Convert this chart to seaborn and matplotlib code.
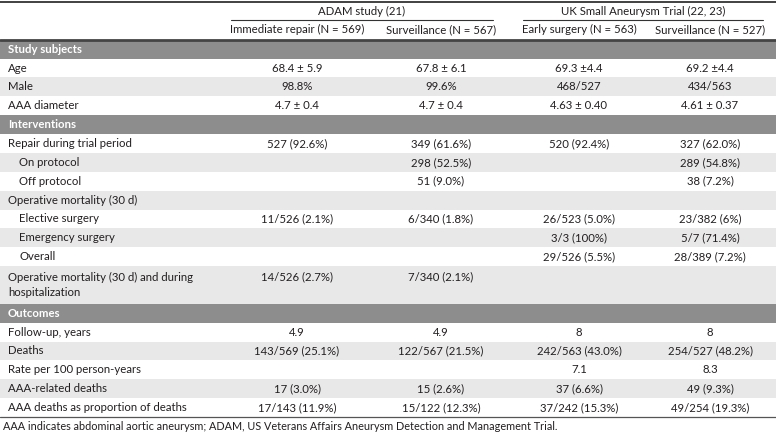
import matplotlib.pyplot as plt
import numpy as np
import seaborn as sns
from matplotlib.colors import ListedColormap

sns.set_theme(style="white")
plt.rcParams["font.family"] = ["Liberation Sans Narrow", "Lato", "DejaVu Sans"]

W, H, DPI = 776, 437, 100
FS = 8.2

# Datos de la tabla
GRUPOS = ["ADAM study (21)", "UK Small Aneurysm Trial (22, 23)"]
COLUMNAS = ["Immediate repair (N = 569)", "Surveillance (N = 567)",
            "Early surgery (N = 563)", "Surveillance (N = 527)"]

ETIQUETAS = [
    "Study subjects", "Age", "Male", "AAA diameter",
    "Interventions", "Repair during trial period", "On protocol", "Off protocol",
    "Operative mortality (30 d)", "Elective surgery", "Emergency surgery", "Overall",
    "Operative mortality (30 d) and during\nhospitalization",
    "Outcomes", "Follow-up, years", "Deaths", "Rate per 100 person-years",
    "AAA-related deaths", "AAA deaths as proportion of deaths",
]
TIPO = ["sec", "row", "row", "row",
        "sec", "row", "sub", "sub",
        "row", "sub", "sub", "sub", "row",
        "sec", "row", "row", "row", "row", "row"]
ALTO = [1] * 12 + [2] + [1] * 6

ADAM_INMEDIATA = ["", "68.4 ± 5.9", "98.8%", "4.7 ± 0.4",
                  "", "527 (92.6%)", "", "",
                  "", "11/526 (2.1%)", "", "", "14/526 (2.7%)",
                  "", "4.9", "143/569 (25.1%)", "", "17 (3.0%)", "17/143 (11.9%)"]
ADAM_VIGILANCIA = ["", "67.8 ± 6.1", "99.6%", "4.7 ± 0.4",
                   "", "349 (61.6%)", "298 (52.5%)", "51 (9.0%)",
                   "", "6/340 (1.8%)", "", "", "7/340 (2.1%)",
                   "", "4.9", "122/567 (21.5%)", "", "15 (2.6%)", "15/122 (12.3%)"]
UK_TEMPRANA = ["", "69.3 ±4.4", "468/527", "4.63 ± 0.40",
               "", "520 (92.4%)", "", "",
               "", "26/523 (5.0%)", "3/3 (100%)", "29/526 (5.5%)", "",
               "", "8", "242/563 (43.0%)", "7.1", "37 (6.6%)", "37/242 (15.3%)"]
UK_VIGILANCIA = ["", "69.2 ±4.4", "434/563", "4.61 ± 0.37",
                 "", "327 (62.0%)", "289 (54.8%)", "38 (7.2%)",
                 "", "23/382 (6%)", "5/7 (71.4%)", "28/389 (7.2%)", "",
                 "", "8", "254/527 (48.2%)", "8.3", "49 (9.3%)", "49/254 (19.3%)"]

NOTA = ("AAA indicates abdominal aortic aneurysm; ADAM, US Veterans Affairs "
        "Aneurysm Detection and Management Trial.")

# Posiciones (pixeles)
COL_X = np.array([297, 441, 579, 710]) / W
GRUPO_X = np.array([362, 643]) / W
GRUPO_LINEA = [(231 / W, 493 / W), (523 / W, 763 / W)]
TOP, BOTTOM = 2, 417
N_HEAD = 2
N_UNID = N_HEAD + sum(ALTO)

# sombreado: 0 blanco, 1 gris claro, 2 seccion
sombra = [0] * N_HEAD
alt = 0
for tipo, alto in zip(TIPO, ALTO):
    if tipo == "sec":
        sombra += [2] * alto
        alt = 0
    else:
        sombra += [alt] * alto
        alt = 1 - alt
matriz = np.array(sombra).reshape(-1, 1)

fig = plt.figure(figsize=(W / DPI, H / DPI), dpi=DPI)
ax = fig.add_axes([0, 1 - BOTTOM / H, 1, (BOTTOM - TOP) / H])
sns.heatmap(matriz, cmap=ListedColormap(["white", "#e8e8e8", "#8d8d8d"]),
            vmin=0, vmax=2, cbar=False, xticklabels=False, yticklabels=False, ax=ax)
ax.set_xlim(0, 1)
ax.set_ylim(N_UNID, 0)
ax.axis("off")

col_txt = "#231f20"

# encabezados
for x, g in zip(GRUPO_X, GRUPOS):
    ax.text(x, 0.52, g, ha="center", va="center", fontsize=FS, color=col_txt)
for x0, x1 in GRUPO_LINEA:
    ax.plot([x0, x1], [0.95, 0.95], color="#333333", lw=0.8, clip_on=False)
for x, c in zip(COL_X, COLUMNAS):
    ax.text(x, 1.45, c, ha="center", va="center", fontsize=FS, color=col_txt)

ax.plot([0, 1], [0, 0], color="#333333", lw=1.3, clip_on=False)
ax.plot([0, 1], [N_HEAD, N_HEAD], color="#444444", lw=2.0, clip_on=False)
ax.plot([0, 1], [N_UNID, N_UNID], color="#555555", lw=0.9, clip_on=False)

# filas
y = N_HEAD
valores = list(zip(ADAM_INMEDIATA, ADAM_VIGILANCIA, UK_TEMPRANA, UK_VIGILANCIA))
for etiqueta, tipo, alto, vals in zip(ETIQUETAS, TIPO, ALTO, valores):
    yc = y + alto / 2
    if tipo == "sec":
        ax.text(8 / W, yc, etiqueta, ha="left", va="center", fontsize=FS,
                color="white", fontweight="bold")
    else:
        x_lab = 19 / W if tipo == "sub" else 8 / W
        ax.text(x_lab, yc, etiqueta, ha="left", va="center", fontsize=FS,
                color=col_txt, linespacing=1.35)
        y_val = y + 0.55 if alto > 1 else yc
        for x, v in zip(COL_X, vals):
            if v:
                ax.text(x, y_val, v, ha="center", va="center", fontsize=FS, color=col_txt)
    y += alto

fig.text(3 / W, 1 - 427 / H, NOTA, ha="left", va="center", fontsize=FS - 0.4, color=col_txt)

fig.savefig("out.png", dpi=DPI)
plt.close(fig)
